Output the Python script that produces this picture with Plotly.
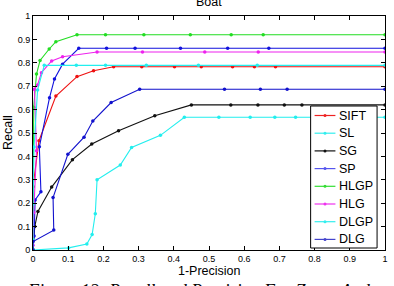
import plotly.graph_objects as go

names = ["SIFT", "SL", "SG", "SP", "HLGP", "HLG", "DLGP", "DLG"]
colors = ["#ee1111", "#22eeee", "#111111", "#1111dd", "#22dd22", "#ee22ee", "#22eeee", "#1111cc"]
legend_colors = ["#ee2222", "#33eeee", "#111111", "#5555ee", "#33dd33", "#ee33ee", "#33eeee", "#4444cc"]

sift_x = [0, 0, 0.017, 0.065, 0.125, 0.172, 0.229, 0.309, 0.402, 0.478, 0.567, 0.629, 0.689, 1.0]
sift_y = [0, 0.27, 0.467, 0.658, 0.741, 0.766, 0.783, 0.783, 0.783, 0.783, 0.783, 0.783, 0.783, 0.783]

sl_x = [0, 0.101, 0.153, 0.168, 0.177, 0.182, 0.248, 0.280, 0.362, 0.430, 0.528, 0.617, 0.687, 0.746, 1.0]
sl_y = [0, 0.009, 0.026, 0.066, 0.155, 0.300, 0.363, 0.438, 0.490, 0.567, 0.567, 0.567, 0.567, 0.567, 0.567]

sg_x = [0, 0.005, 0.014, 0.053, 0.112, 0.167, 0.243, 0.346, 0.450, 0.562, 0.639, 0.714, 0.764, 1.0]
sg_y = [0, 0.10, 0.165, 0.269, 0.386, 0.453, 0.510, 0.574, 0.620, 0.620, 0.620, 0.620, 0.620, 0.620]

sp_x = [0, 0.003, 0.006, 0.0225, 0.018, 0.047, 0.061, 0.084, 0.130, 0.209, 0.290, 0.419, 0.553, 0.670, 1.0]
sp_y = [0, 0.06, 0.214, 0.249, 0.441, 0.651, 0.731, 0.794, 0.862, 0.862, 0.862, 0.862, 0.862, 0.862, 0.862]

hlgp_x = [0, 0, 0.002, 0.010, 0.020, 0.046, 0.065, 0.125, 0.206, 0.315, 0.447, 0.563, 0.654, 1.0]
hlgp_y = [0, 0.27, 0.61, 0.752, 0.810, 0.859, 0.890, 0.920, 0.920, 0.920, 0.920, 0.920, 0.920, 0.920]

hlg_x = [0, 0.002, 0.010, 0.004, 0.013, 0.024, 0.053, 0.084, 0.182, 0.311, 0.488, 0.640, 1.0]
hlg_y = [0.02, 0.16, 0.424, 0.687, 0.705, 0.758, 0.808, 0.826, 0.846, 0.846, 0.846, 0.846, 0.846]

dlgp_x = [0, 0, 0, 0.003, 0.013, 0.032, 0.123, 0.206, 0.322, 0.470, 0.637, 1.0]
dlgp_y = [0, 0.044, 0.197, 0.44, 0.684, 0.789, 0.789, 0.789, 0.789, 0.789, 0.789, 0.789]

dlg_x = [0, 0, 0.059, 0.057, 0.099, 0.145, 0.170, 0.222, 0.303, 0.544, 0.646, 0.722, 1.0]
dlg_y = [0, 0.036, 0.085, 0.224, 0.409, 0.482, 0.551, 0.630, 0.687, 0.687, 0.687, 0.687, 0.687]

xs = [sift_x, sl_x, sg_x, sp_x, hlgp_x, hlg_x, dlgp_x, dlg_x]
ys = [sift_y, sl_y, sg_y, sp_y, hlgp_y, hlg_y, dlgp_y, dlg_y]

ticks = [0, 0.1, 0.2, 0.3, 0.4, 0.5, 0.6, 0.7, 0.8, 0.9, 1]
tick_text = ["0", "0.1", "0.2", "0.3", "0.4", "0.5", "0.6", "0.7", "0.8", "0.9", "1"]

W, H = 394, 286
ML, MR, MT, MB = 33, 6, 16, 36
PW, PH = W - ML - MR, H - MT - MB


def px(xp):
    return (xp - ML) / PW


def py(yp):
    return (H - MB - yp) / PH


fig = go.Figure()
for n, c, x, y in zip(names, colors, xs, ys):
    fig.add_trace(go.Scatter(
        x=x, y=y, name=n, mode="lines+markers", showlegend=False,
        line=dict(color=c, width=1.1),
        marker=dict(color=c, size=3.5, symbol="circle"),
    ))

font = "Liberation Sans"
axis_common = dict(
    range=[0, 1], tickvals=ticks, ticktext=tick_text,
    showgrid=False, zeroline=False, showline=True, linecolor="black", linewidth=1,
    mirror="ticks", ticks="inside", ticklen=4, tickcolor="black", tickwidth=1,
    tickfont=dict(family=font, size=9, color="black"),
)
fig.update_layout(
    width=W, height=H,
    margin=dict(l=ML, r=MR, t=MT, b=MB),
    paper_bgcolor="white", plot_bgcolor="white",
    showlegend=False,
    xaxis=dict(**axis_common),
    yaxis=dict(**axis_common),
)

# custom legend box
fig.add_shape(type="rect", xref="paper", yref="paper",
              x0=px(313), x1=px(380), y0=py(248), y1=py(106),
              line=dict(color="black", width=1), fillcolor="white", layer="above")
for i, (n, c) in enumerate(zip(names, legend_colors)):
    yc = 115.5 + i * 17.7
    fig.add_shape(type="line", xref="paper", yref="paper",
                  x0=px(317), x1=px(338), y0=py(yc), y1=py(yc),
                  line=dict(color=c, width=1.2), layer="above")
    fig.add_shape(type="circle", xref="paper", yref="paper",
                  x0=px(326), x1=px(329), y0=py(yc + 1.5), y1=py(yc - 1.5),
                  line=dict(color=c, width=0), fillcolor=c, layer="above")
    fig.add_annotation(text=n, xref="paper", yref="paper", x=px(340), y=py(yc),
                       xanchor="left", yanchor="middle", showarrow=False,
                       font=dict(family=font, size=12.5, color="black"))

fig.add_annotation(text="Boat", xref="paper", yref="paper", x=0.5, y=1, yshift=5,
                   xanchor="center", yanchor="bottom", showarrow=False,
                   font=dict(family=font, size=12.5, color="black"))
fig.add_annotation(text="Recall", xref="paper", yref="paper", x=0, y=0.5, xshift=-34, textangle=-90,
                   xanchor="left", yanchor="middle", showarrow=False,
                   font=dict(family=font, size=12.5, color="black"))
fig.add_annotation(text="1-Precision", xref="paper", yref="paper", x=0.5, y=0, yshift=-12,
                   xanchor="center", yanchor="top", showarrow=False,
                   font=dict(family=font, size=12.5, color="black"))
fig.add_annotation(text="<i>Figure 12: Recall and Precision For Zoom And</i>", xref="paper", yref="paper",
                   x=px(200), y=0, yshift=-29,
                   xanchor="center", yanchor="top", showarrow=False,
                   font=dict(family="Liberation Serif", size=18, color="black"))

fig.write_html("out.html")
